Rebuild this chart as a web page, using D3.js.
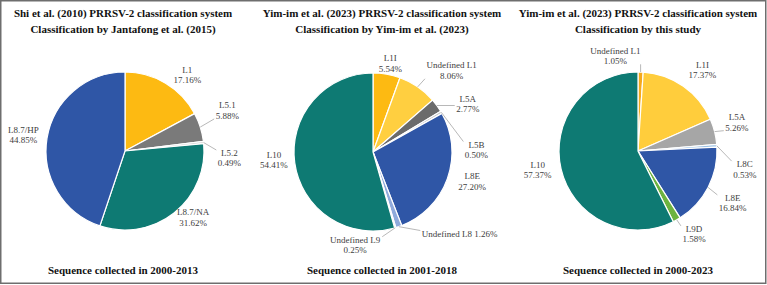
<!DOCTYPE html>
<html>
<head>
<meta charset="utf-8">
<script src="https://cdn.jsdelivr.net/npm/d3@7"></script>
<style>
  body { margin: 0; background: #fff; }
  svg text { font-family: "Liberation Serif", "Times New Roman", serif; }
</style>
</head>
<body>
<svg id="chart" width="767" height="285"></svg>
<script>
// ---- data ----
const titles1 = ["Shi et al. (2010) PRRSV-2 classification system", "Classification by Jantafong et al. (2015)"];
const footer1 = "Sequence collected in 2000-2013";
const lineages1 = ["L1", "L5.1", "L5.2", "L8.7/NA", "L8.7/HP"];
const percents1 = [17.16, 5.88, 0.49, 31.62, 44.85];

const titles2 = ["Yim-im et al. (2023) PRRSV-2 classification system", "Classification by Yim-im et al. (2023)"];
const footer2 = "Sequence collected in 2001-2018";
const lineages2 = ["L1I", "Undefined L1", "L5A", "L5B", "L8E", "Undefined L8", "Undefined L9", "L10"];
const percents2 = [5.54, 8.06, 2.77, 0.50, 27.20, 1.26, 0.25, 54.41];

const titles3 = ["Yim-im et al. (2023) PRRSV-2 classification system", "Classification by this study"];
const footer3 = "Sequence collected in 2000-2023";
const lineages3 = ["Undefined L1", "L1I", "L5A", "L8C", "L8E", "L9D", "L10"];
const percents3 = [1.05, 17.37, 5.26, 0.53, 16.84, 1.58, 57.37];

// ---- styling / layout ----
const teal = "#0e7a73", blue = "#2f56a6";
const colors1 = ["#fdba12", "#7a7a7a", "#d3d3d3", teal, blue];
const colors2 = ["#fdba12", "#ffcf40", "#6b6b6b", "#c4c4c4", blue, "#8faadc", "#9dc3e6", teal];
const colors3 = ["#f5a91c", "#ffcd3c", "#a6a6a6", "#9dc3e6", blue, "#6db33f", teal];

// label nudges from the default label ring, and which labels get a leader line
const nudges1 = [[11, 10], [7, -10], [5, 18], [6, -12], [-3, 0]];
const leaders1 = [false, true, true, false, false];
const nudges2 = [[0, 10], [22, 1], [14, 11], [17, 48], [5, -4], [54, -13], [-46, -3], [0, -6]];
const leaders2 = [false, true, true, true, false, true, true, false];
const oneLine2 = [false, false, false, false, false, true, false, false];
const nudges3 = [[-26, 5], [7, 1], [2, -4], [7, 25], [6, 6], [7, -4], [-3, -4]];
const leaders3 = [true, false, true, true, true, true, false];

const W = 767, H = 285, R = 79, labelR = 100;

const panels = [
  { titles: titles1, footer: footer1, names: lineages1, values: percents1, colors: colors1,
    nudges: nudges1, leaders: leaders1, oneLine: lineages1.map(() => false), tx: 123, cx: 125, cy: 151 },
  { titles: titles2, footer: footer2, names: lineages2, values: percents2, colors: colors2,
    nudges: nudges2, leaders: leaders2, oneLine: oneLine2, tx: 382, cx: 373, cy: 152 },
  { titles: titles3, footer: footer3, names: lineages3, values: percents3, colors: colors3,
    nudges: nudges3, leaders: leaders3, oneLine: lineages3.map(() => false), tx: 638, cx: 638, cy: 151 }
];

const svg = d3.select("#chart");

svg.append("rect")
  .attr("x", 0.75).attr("y", 0.75)
  .attr("width", W - 2).attr("height", H - 2.5)
  .attr("fill", "none").attr("stroke", "#6e6e6e").attr("stroke-width", 1.5);

const pie = d3.pie().sort(null).value(d => d);
const arc = d3.arc().innerRadius(0).outerRadius(R);
const fmt = d3.format(".2f");

panels.forEach(p => {
  // titles
  const t = svg.append("text")
    .attr("text-anchor", "middle")
    .attr("font-size", 11).attr("font-weight", "bold").attr("fill", "#111");
  p.titles.forEach((s, i) => {
    t.append("tspan").attr("x", p.tx).attr("y", 17 + i * 16).text(s);
  });
  svg.append("text")
    .attr("x", p.tx).attr("y", 274)
    .attr("text-anchor", "middle")
    .attr("font-size", 11).attr("font-weight", "bold").attr("fill", "#111")
    .text(p.footer);

  const g = svg.append("g").attr("transform", `translate(${p.cx},${p.cy})`);
  const arcs = pie(p.values);

  g.selectAll("path.slice")
    .data(arcs)
    .join("path")
    .attr("class", "slice")
    .attr("d", arc)
    .attr("fill", (d, i) => p.colors[i])
    .attr("stroke", "#fff")
    .attr("stroke-width", 1.2);

  arcs.forEach((d, i) => {
    const mid = (d.startAngle + d.endAngle) / 2;
    const lx = Math.sin(mid) * labelR + p.nudges[i][0];
    const ly = -Math.cos(mid) * labelR + p.nudges[i][1];
    const lines = p.oneLine[i]
      ? [p.names[i] + " " + fmt(d.data) + "%"]
      : [p.names[i], fmt(d.data) + "%"];
    const label = g.append("text")
      .attr("text-anchor", "middle")
      .attr("font-size", 9).attr("fill", "#404040");
    lines.forEach((s, k) => {
      label.append("tspan")
        .attr("x", lx)
        .attr("y", ly + 3 + (k - (lines.length - 1) / 2) * 10.5)
        .text(s);
    });

    if (p.leaders[i]) {
      const ax = Math.sin(mid) * R, ay = -Math.cos(mid) * R;
      const b = label.node().getBBox();
      const bx = Math.max(b.x - 1.5, Math.min(ax, b.x + b.width + 1.5));
      const by = Math.max(b.y + 2, Math.min(ay, b.y + b.height - 2));
      g.insert("line", "text")
        .attr("x1", ax).attr("y1", ay)
        .attr("x2", bx).attr("y2", by)
        .attr("stroke", "#a6a6a6").attr("stroke-width", 0.8);
    }
  });
});
</script>
</body>
</html>
